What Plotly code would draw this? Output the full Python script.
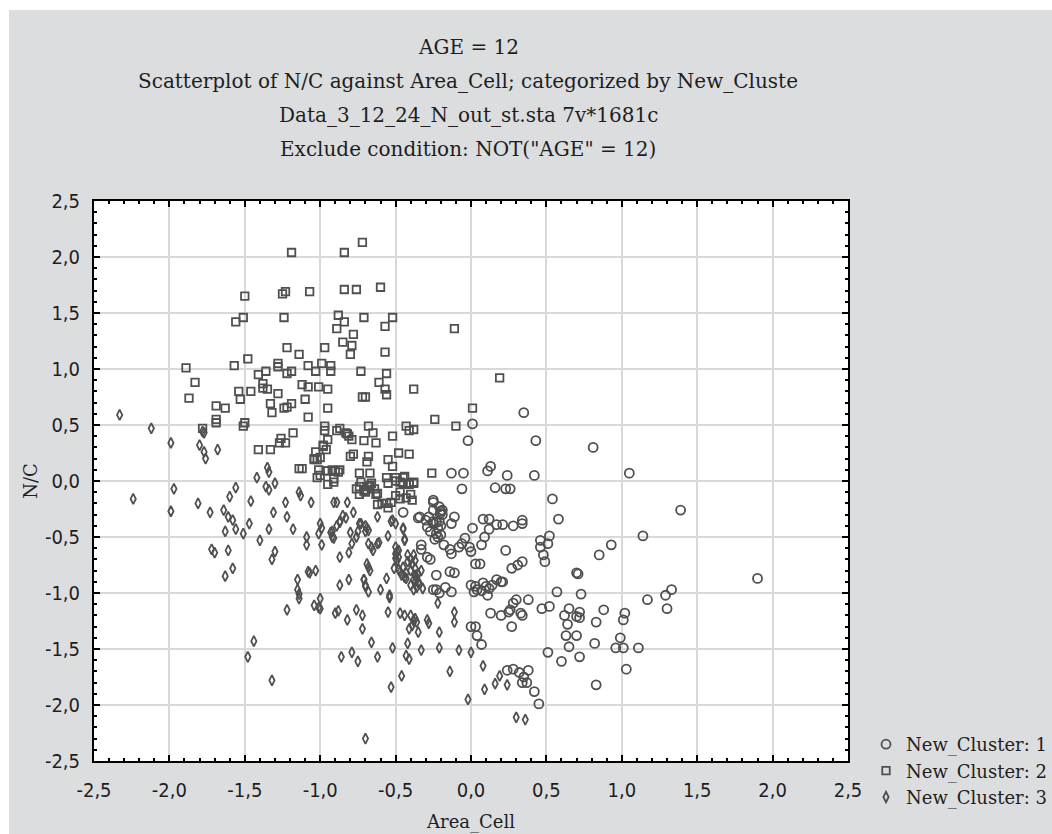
import plotly.graph_objects as go

# ---------------- data ----------------
cluster1_x = [0.01, -0.02, 0.35, 0.43, -0.13, -0.05, -0.06, 0.11, 0.13, 0.24, 0.16, 0.23, 0.26, 0.42,
              0.81, 1.05, 0.54, 0.58, 1.39, -0.25, -0.25, -0.21, -0.20, -0.19, -0.34, -0.35, -0.11, -0.45,
              -0.30, -0.29, -0.27, -0.25, -0.23, -0.22, -0.21, -0.20, -0.22, -0.20, -0.24, -0.28, -0.25, -0.23, -0.205, -0.19, -0.25,
              -0.13, 0.01, 0.08, 0.12, 0.12, 0.17, 0.21, 0.28, 0.34, 0.34, 0.46, 0.46, 0.48, 0.49, 0.52, 0.51,
              -0.18, -0.14, -0.13, -0.08, -0.06, -0.04, -0.01, 0.00, 0.07, 0.09, -0.33, -0.33, -0.29, -0.27, 0.23,
              0.03, 0.06, 0.27, 0.31, 0.34, -0.23, -0.14, -0.11, 0.00, 0.03, 0.08, 0.10, 0.14, 0.17, 0.20, 0.21,
              -0.23, -0.17, -0.13, -0.25, -0.21, 0.93, 0.85, 1.14, 0.70, 0.71, 0.57, 0.73, 1.90, 1.33, 1.29, 1.30, 1.17, 0.38,
              0.13, 0.20, 0.25, 0.26, 0.28, 0.30, 0.33, 0.34, 0.27, 0.47, 0.52,
              0.62, 0.65, 0.64, 0.63, 0.65, 0.70, 0.72, 0.72, 0.70, 0.88, 0.83, 0.82, 1.02, 1.01, 0.99, 0.96, 1.01, 1.11, 1.03, 0.83, 0.72, 0.60, 0.51, 0.07,
              0.00, 0.03, 0.04,
              0.24, 0.28, 0.32, 0.35, 0.38, 0.34, 0.37, 0.42, 0.45,
              0.04, 0.07, 0.11, 0.12, 0.02]
cluster1_y = [0.51, 0.36, 0.61, 0.36, 0.07, 0.07, -0.07, 0.09, 0.13, 0.05, -0.06, -0.07, -0.07, 0.05,
              0.30, 0.07, -0.16, -0.34, -0.26, -0.17, -0.26, -0.23, -0.27, -0.30, -0.32, -0.33, -0.32, -0.28,
              -0.35, -0.41, -0.45, -0.38, -0.47, -0.42, -0.36, -0.40, -0.50, -0.48, -0.52, -0.32, -0.36, -0.37, -0.29, -0.26, -0.19,
              -0.38, -0.42, -0.34, -0.34, -0.43, -0.39, -0.39, -0.40, -0.35, -0.38, -0.53, -0.59, -0.66, -0.72, -0.49, -0.56,
              -0.57, -0.61, -0.65, -0.59, -0.56, -0.51, -0.59, -0.63, -0.57, -0.50, -0.57, -0.61, -0.68, -0.70, -0.62,
              -0.74, -0.74, -0.78, -0.75, -0.72, -0.84, -0.81, -0.82, -0.93, -0.94, -0.91, -0.94, -0.93, -0.88, -0.90, -0.90,
              -0.97, -0.95, -0.99, -0.97, -1.00, -0.57, -0.66, -0.49, -0.82, -0.83, -0.99, -1.01, -0.87, -0.97, -1.02, -1.14, -1.06, -1.06,
              -1.18, -1.20, -1.17, -1.15, -1.09, -1.06, -1.18, -1.20, -1.30, -1.14, -1.12,
              -1.20, -1.14, -1.28, -1.38, -1.48, -1.38, -1.17, -1.22, -1.21, -1.15, -1.26, -1.45, -1.18, -1.24, -1.40, -1.49, -1.49, -1.49, -1.68, -1.82, -1.57, -1.61, -1.53, -1.46,
              -1.30, -1.30, -1.38,
              -1.69, -1.68, -1.71, -1.75, -1.69, -1.80, -1.80, -1.88, -1.99,
              -0.97, -0.98, -1.02, -0.96, -0.99]

cluster2_x = [-1.89, -1.83, -1.87, -1.78, -1.69, -1.69, -1.69, -1.63,
              -1.57, -1.56, -1.51, -1.50, -1.48, -1.54, -1.53, -1.46,
              -1.51, -1.50, -1.41, -1.36, -1.38, -1.38, -1.35, -1.41,
              -1.33, -1.28, -1.28, -1.22, -1.19, -1.28, -1.33, -1.32,
              -1.24, -1.22, -1.19, -1.25, -1.23, -1.24, -1.19, -1.22,
              -1.14, -1.12, -1.08, -1.10, -1.08, -1.07, -1.08, -1.03,
              -1.01, -0.99, -0.97, -0.93, -0.93, -0.95, -0.95, -1.18,
              -1.26, -1.23, -1.27, -1.14, -1.04, -1.03, -1.00, -1.02,
              -1.00, -0.97, -0.97, -0.95, -0.98, -0.96, -0.95, -0.95,
              -0.91, -0.90, -0.88, -0.87, -0.89, -0.82, -0.79, -0.84,
              -0.72, -0.84, -0.76, -0.60, -0.88, -0.84, -0.89, -0.78,
              -0.71, -0.57, -0.52, -0.85, -0.79, -0.80, -0.57, -0.73,
              -0.56, -0.61, -0.57, -0.56, -0.72, -0.70, -0.38, -0.71,
              -0.68, -0.65, -0.63, -0.52, -0.43, -0.41, -0.38, -0.48,
              -0.41, -0.55, -0.52, -0.80, -0.78, -0.68, -0.69, -0.74,
              -0.67, -0.45, -0.26, -0.24, -0.10, -0.11, 0.01, 0.19,
              -0.83, -0.81, -0.98, -1.04, -1.02, -1.12, -1.01, -0.96, -0.92, -0.87, -0.91,
              -0.74, -0.70, -0.67, -0.63, -0.74, -0.70, -0.62, -0.56, -0.55, -0.56, -0.50, -0.44, -0.47, -0.41, -0.38, -0.40, -0.50,
              -0.76, -0.73, -0.71, -0.68, -0.66, -0.64, -0.62, -0.55, -0.50, -0.47, -0.45, -0.41, -0.38,
              -0.59, -0.53, -0.47, -0.43, -0.39]
cluster2_y = [1.01, 0.88, 0.74, 0.47, 0.55, 0.52, 0.67, 0.65,
              1.03, 1.42, 1.46, 1.65, 1.09, 0.80, 0.73, 0.80,
              0.49, 0.52, 0.95, 0.98, 0.87, 0.83, 0.82, 0.28,
              0.28, 1.05, 1.02, 0.96, 0.98, 0.78, 0.69, 0.61,
              0.65, 0.66, 0.69, 1.67, 1.69, 1.46, 2.04, 1.19,
              1.13, 0.86, 0.84, 0.73, 0.57, 1.69, 1.03, 0.98,
              0.84, 1.05, 1.19, 1.03, 0.98, 0.82, 0.65, 0.43,
              0.38, 0.34, 0.34, 0.11, 0.20, 0.26, 0.21, 0.03,
              0.05, 0.49, 0.45, 0.37, 0.31, 0.28, -0.03, 0.09,
              0.02, 0.09, 0.08, 0.47, 0.45, 0.42, 0.37, 1.71,
              2.13, 2.04, 1.71, 1.73, 1.48, 1.42, 1.36, 1.31,
              1.46, 1.38, 1.46, 1.24, 1.21, 1.13, 1.15, 0.98,
              0.96, 0.88, 0.82, 0.77, 0.75, 0.75, 0.82, 0.36,
              0.49, 0.43, 0.34, 0.40, 0.49, 0.45, 0.46, 0.25,
              0.24, 0.19, 0.13, 0.22, 0.24, 0.22, 0.17, 0.07,
              0.07, 0.03, 0.07, 0.55, 0.49, 1.36, 0.65, 0.92,
              0.43, 0.40, 0.32, 0.19, 0.19, 0.11, 0.10, 0.09, 0.10, 0.10, -0.01,
              -0.05, -0.08, -0.04, -0.12, -0.12, -0.10, -0.21, -0.20, -0.24, 0.03, 0.03, 0.04, -0.01, -0.02, -0.01, -0.12, -0.13,
              -0.07, -0.01, -0.09, -0.05, -0.02, -0.07, -0.11, -0.02, 0.00, -0.10, -0.02, -0.03, -0.02,
              -0.20, -0.19, -0.16, -0.15, -0.17]

cluster3_x = [-2.33, -2.12, -1.99, -1.80, -1.77, -1.76, -1.77, -1.78, -1.68,
              -1.97, -2.24, -1.99, -1.81, -1.73, -1.64, -1.61, -1.58, -1.63, -1.56, -1.51, -1.47, -1.46, -1.60, -1.56,
              -1.35, -1.34, -1.42, -1.36, -1.34, -1.30, -1.23, -1.14, -1.13, -1.06, -0.91, -0.89, -0.82,
              -1.72, -1.70, -1.61, -1.63, -1.58, -1.40, -1.34, -1.31, -1.22, -1.18, -1.30, -1.32,
              -1.15, -1.15, -1.14, -1.14, -1.22, -1.09, -1.09, -1.08, -1.07, -1.03,
              -1.00, -0.99, -1.01, -0.99, -1.00, -1.04, -1.01, -1.00,
              -0.93, -0.91, -0.87, -0.87, -0.85, -0.81, -0.79, -0.80, -0.78,
              -0.87, -0.81, -0.90, -0.88, -0.82, -0.76, -0.72, -0.71, -0.74, -0.76,
              -0.70, -0.68, -0.69, -0.70, -0.69, -0.68, -0.67, -0.70, -0.68, -0.72, -0.66,
              -0.86, -0.79, -0.75, -0.62, -0.70, -1.48, -1.44, -1.32,
              -0.68, -0.66, -0.61, -0.62, -0.60, -0.54, -0.55, -0.53, -0.56, -0.55, -0.52, -0.53, -0.46, -0.42, -0.43, -0.41,
              -0.50, -0.51, -0.48, -0.50, -0.45, -0.44,
              -0.47, -0.44, -0.40, -0.38, -0.41, -0.39,
              -0.42, -0.40, -0.42, -0.44, -0.38, -0.37, -0.35, -0.36,
              -0.35, -0.33, -0.29, -0.28, -0.21, -0.21, -0.14, -0.11, -0.11, -0.08, -0.02, 0.00, 0.08, 0.09, 0.16, 0.19, 0.24, 0.30, 0.36,
              -0.22,
              -0.83, -0.87, -0.89, -0.92, -0.92, -0.75, -0.73, -0.65, -0.62, -0.52, -0.50, -0.45, -0.44,
              -0.50, -0.49, -0.48, -0.49, -0.71, -0.70, -0.38, -0.37, -0.39,
              -0.48, -0.45, -0.43, -0.40, -0.37, -0.35, -0.33, -0.37, -0.34, -0.40, -0.36, -0.32, -0.38, -0.43, -0.46, -0.47,
              -0.54, -0.37, -0.36]
cluster3_y = [0.59, 0.47, 0.34, 0.32, 0.26, 0.20, 0.43, 0.44, 0.28,
              -0.07, -0.16, -0.27, -0.20, -0.28, -0.26, -0.32, -0.35, -0.45, -0.43, -0.47, -0.38, -0.18, -0.14, -0.06,
              0.12, 0.08, 0.03, -0.05, -0.08, -0.02, -0.19, -0.10, -0.13, -0.19, -0.19, -0.19, -0.19,
              -0.61, -0.64, -0.62, -0.85, -0.78, -0.53, -0.43, -0.28, -0.32, -0.43, -0.63, -0.70,
              -0.88, -0.97, -1.01, -1.05, -1.15, -0.50, -0.57, -0.81, -0.82, -0.80,
              -0.38, -0.42, -0.47, -0.57, -1.05, -1.11, -1.13, -1.14,
              -0.46, -0.51, -0.68, -0.36, -0.31, -0.64, -0.56, -0.46, -0.28,
              -0.93, -0.88, -1.18, -1.16, -1.24, -1.15, -1.20, -0.88, -0.38, -0.50,
              -0.40, -0.44, -0.42, -0.45, -0.74, -0.77, -0.80, -0.94, -0.99, -1.32, -1.44,
              -1.57, -1.53, -1.61, -1.57, -2.30, -1.57, -1.43, -1.78,
              -0.56, -0.59, -0.55, -0.32, -0.97, -1.04, -0.49, -0.36, -0.87, -1.17, -1.49, -1.84, -1.74, -1.45, -1.56, -1.59,
              -0.65, -0.78, -0.62, -0.69, -0.42, -0.53,
              -1.18, -1.20, -1.20, -1.25, -1.32, -1.29,
              -0.66, -0.70, -0.72, -0.86, -0.88, -0.84, -0.91, -0.86,
              -1.35, -1.51, -1.24, -1.27, -1.35, -1.49, -1.70, -1.17, -1.26, -1.51, -1.95, -1.53, -1.65, -1.86, -1.81, -1.74, -1.82, -2.11, -2.13,
              -1.09,
              -0.33, -0.37, -0.40, -0.45, -0.50, -0.45, -0.38, -0.62, -0.56, -0.35, -0.38, -0.43, -0.52,
              -0.59, -0.63, -0.68, -0.71, -0.88, -0.93, -0.66, -0.71, -0.74,
              -0.79, -0.77, -0.82, -0.80, -0.78, -0.83, -0.80, -0.90, -0.92, -0.93, -0.95, -0.96, -0.97, -0.87, -0.84, -0.81,
              -1.02, -1.23, -1.26]

series_names = ["New_Cluster: 1", "New_Cluster: 2", "New_Cluster: 3"]
tick_vals = [-2.5, -2.0, -1.5, -1.0, -0.5, 0.0, 0.5, 1.0, 1.5, 2.0, 2.5]
tick_text = ["-2,5", "-2,0", "-1,5", "-1,0", "-0,5", "0,0", "0,5", "1,0", "1,5", "2,0", "2,5"]
title_lines = ["AGE = 12",
               "Scatterplot of N/C against Area_Cell; categorized by New_Cluste",
               "Data_3_12_24_N_out_st.sta 7v*1681c",
               "Exclude condition: NOT(\"AGE\" = 12)"]
x_title = "Area_Cell"
y_title = "N/C"

# ---------------- layout geometry ----------------
W, H = 1052, 834
L, R, T, B = 94, 848, 201, 761          # plot area in pixels
PW, PH = R - L, B - T


def px2x(px):
    return (px - L) / PW


def py2y(py):
    return (B - py) / PH


MARK = "#505050"
TXT = "#1e1e1e"
SERIF = "DejaVu Serif"
SANS = "Liberation Sans Narrow, DejaVu Sans Condensed, Liberation Sans, sans-serif"

fig = go.Figure()
styles = [("circle-open", 9), ("square-open", 7.5), ("diamond-tall-open", 7.5)]
for i, (xs, ys) in enumerate([(cluster1_x, cluster1_y), (cluster2_x, cluster2_y), (cluster3_x, cluster3_y)]):
    sym, size = styles[i]
    fig.add_trace(go.Scatter(
        x=xs, y=ys, mode="markers", name=series_names[i], legendgroup=str(i),
        marker=dict(symbol=sym, size=size, color=MARK, line=dict(color=MARK, width=1.8)),
    ))

axis_common = dict(
    range=[-2.5, 2.5], tickvals=tick_vals, ticktext=tick_text,
    showgrid=True, gridcolor="#d9d9d9", gridwidth=1.5, zeroline=False,
    showline=True, linecolor="black", linewidth=2, mirror="ticks",
    ticks="inside", ticklen=6, tickwidth=1.5, tickcolor="black",
    minor=dict(ticks="inside", dtick=0.1, ticklen=3, tickwidth=1.5, tickcolor="black", showgrid=False),
    tickfont=dict(family=SANS, size=20, color=TXT),
    fixedrange=True,
)

fig.update_layout(
    width=W, height=H,
    margin=dict(l=L, r=W - R, t=T, b=H - B, autoexpand=False),
    paper_bgcolor="#dcdddf", plot_bgcolor="white",
    xaxis=dict(axis_common, title=dict(text=x_title, font=dict(family=SERIF, size=18, color=TXT), standoff=14),
               ticklabelstandoff=10),
    yaxis=dict(axis_common, title=dict(text=y_title, font=dict(family=SERIF, size=18, color=TXT), standoff=3),
               ticklabelstandoff=8),
    showlegend=True,
    legend=dict(x=px2x(866), y=py2y(726), xanchor="left", yanchor="top",
                bgcolor="rgba(0,0,0,0)", borderwidth=0, tracegroupgap=0,
                font=dict(family=SERIF, size=18, color=TXT)),
    shapes=[
        dict(type="rect", xref="paper", yref="paper", x0=px2x(-5), x1=px2x(W + 5), y0=py2y(10), y1=py2y(-5),
             fillcolor="white", line=dict(width=0), layer="below"),
        dict(type="rect", xref="paper", yref="paper", x0=px2x(-5), x1=px2x(9), y0=py2y(H + 5), y1=py2y(-5),
             fillcolor="white", line=dict(width=0), layer="below"),
    ],
)

title_y_px = [47, 81, 115, 149]
for txt, yp in zip(title_lines, title_y_px):
    fig.add_annotation(text=txt, xref="paper", yref="paper", x=px2x(468), y=py2y(yp),
                       xanchor="center", yanchor="middle", showarrow=False,
                       font=dict(family=SERIF, size=20, color=TXT))

fig.write_html("out.html")
